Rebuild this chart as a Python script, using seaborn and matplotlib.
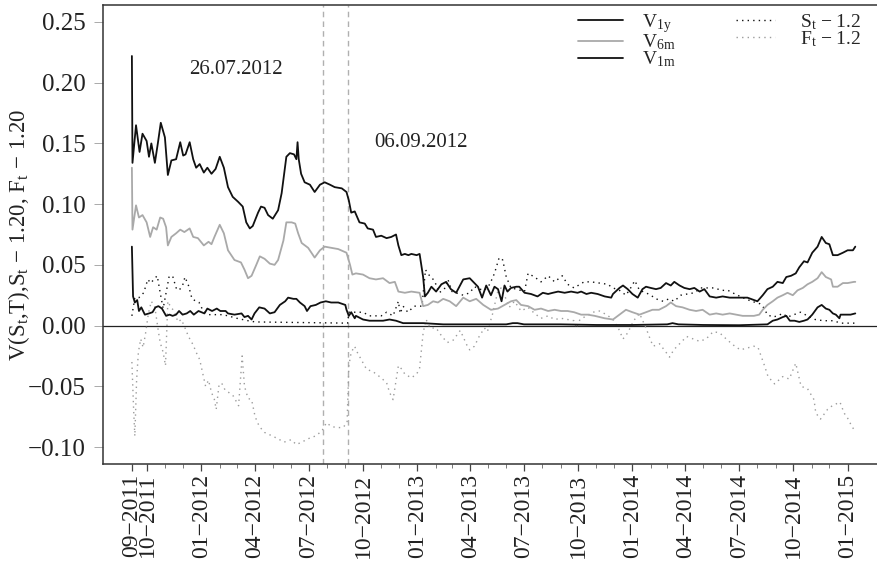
import matplotlib
matplotlib.use("Agg")
import matplotlib.pyplot as plt
import pandas as pd
import seaborn as sns
from matplotlib.lines import Line2D

# ---- data -------------------------------------------------------------
v1y_dates = [
    "2011-09-05", "2011-09-06", "2011-09-12", "2011-09-18", "2011-09-23", "2011-09-30",
    "2011-10-04", "2011-10-08", "2011-10-14", "2011-10-19", "2011-10-24", "2011-10-31",
    "2011-11-05", "2011-11-11", "2011-11-19", "2011-11-26", "2011-12-01", "2011-12-05",
    "2011-12-12", "2011-12-18", "2011-12-23", "2011-12-29", "2012-01-05", "2012-01-11",
    "2012-01-18", "2012-01-25", "2012-02-01", "2012-02-08", "2012-02-15", "2012-02-23",
    "2012-03-03", "2012-03-11", "2012-03-17", "2012-03-23", "2012-03-28", "2012-04-06",
    "2012-04-11", "2012-04-17", "2012-04-23", "2012-05-01", "2012-05-10", "2012-05-16",
    "2012-05-24", "2012-05-30", "2012-06-06", "2012-06-10", "2012-06-12", "2012-06-14",
    "2012-06-18", "2012-06-24", "2012-07-03", "2012-07-11", "2012-07-20", "2012-07-28",
    "2012-08-06", "2012-08-14", "2012-08-26", "2012-09-03", "2012-09-07", "2012-09-11",
    "2012-09-17", "2012-09-25", "2012-10-04", "2012-10-09", "2012-10-18", "2012-10-23",
    "2012-11-01", "2012-11-10", "2012-11-18", "2012-11-26", "2012-11-30", "2012-12-05",
    "2012-12-11", "2012-12-17", "2012-12-22", "2012-12-31", "2013-01-05", "2013-01-11",
    "2013-01-14", "2013-01-19", "2013-01-25", "2013-02-02", "2013-02-11", "2013-02-19",
    "2013-02-27", "2013-03-08", "2013-03-20", "2013-03-31", "2013-04-08", "2013-04-14",
    "2013-04-21", "2013-04-28", "2013-05-01", "2013-05-06", "2013-05-12", "2013-05-18",
    "2013-05-24", "2013-05-29", "2013-06-03", "2013-06-09", "2013-06-18", "2013-06-23",
    "2013-07-02", "2013-07-13", "2013-07-24", "2013-08-02", "2013-08-11", "2013-08-19",
    "2013-08-28", "2013-09-08", "2013-09-19", "2013-09-30", "2013-10-06", "2013-10-15",
    "2013-10-23", "2013-11-03", "2013-11-15", "2013-11-26", "2013-11-29", "2013-12-10",
    "2013-12-16", "2013-12-24", "2014-01-01", "2014-01-10", "2014-01-18", "2014-01-24",
    "2014-02-01", "2014-02-10", "2014-02-18", "2014-02-27", "2014-03-07", "2014-03-13",
    "2014-03-22", "2014-03-30", "2014-04-08", "2014-04-16", "2014-04-25", "2014-05-03",
    "2014-05-12", "2014-05-23", "2014-06-03", "2014-06-15", "2014-06-26", "2014-07-04",
    "2014-07-15", "2014-07-26", "2014-08-01", "2014-08-10", "2014-08-18", "2014-08-27",
    "2014-09-04", "2014-09-13", "2014-09-19", "2014-09-27", "2014-10-05", "2014-10-11",
    "2014-10-19", "2014-10-25", "2014-11-02", "2014-11-11", "2014-11-18", "2014-11-25",
    "2014-12-01", "2014-12-07", "2014-12-15", "2014-12-24", "2015-01-01", "2015-01-10",
    "2015-01-14",
]
v1y_values = [
    0.222, 0.134, 0.165, 0.143, 0.158, 0.152,
    0.139, 0.150, 0.134, 0.150, 0.167, 0.155,
    0.124, 0.136, 0.137, 0.151, 0.140, 0.141,
    0.151, 0.137, 0.130, 0.133, 0.126, 0.130,
    0.125, 0.129, 0.139, 0.130, 0.114, 0.106,
    0.102, 0.098, 0.085, 0.080, 0.082, 0.093,
    0.098, 0.097, 0.091, 0.088, 0.095, 0.109,
    0.139, 0.142, 0.141, 0.137, 0.151, 0.137,
    0.125, 0.118, 0.116, 0.110, 0.116, 0.118,
    0.116, 0.114, 0.113, 0.110, 0.103, 0.093,
    0.094, 0.085, 0.084, 0.080, 0.079, 0.073,
    0.074, 0.072, 0.073, 0.075, 0.066, 0.058,
    0.059, 0.058, 0.059, 0.058, 0.059, 0.040,
    0.024, 0.027, 0.032, 0.028, 0.034, 0.036,
    0.030, 0.027, 0.038, 0.039, 0.035, 0.032,
    0.023, 0.033, 0.030, 0.025, 0.032, 0.030,
    0.020, 0.033, 0.028, 0.031, 0.032, 0.032,
    0.027, 0.026, 0.024, 0.027, 0.026, 0.027,
    0.028, 0.027, 0.028, 0.027, 0.028, 0.026,
    0.027, 0.026, 0.024, 0.023, 0.026, 0.031,
    0.033, 0.030, 0.026, 0.023, 0.030, 0.032,
    0.031, 0.030, 0.031, 0.035, 0.033, 0.036,
    0.033, 0.031, 0.030, 0.031, 0.028, 0.030,
    0.024, 0.023, 0.024, 0.023, 0.023, 0.023,
    0.023, 0.021, 0.020, 0.025, 0.030, 0.032,
    0.036, 0.035, 0.040, 0.041, 0.043, 0.048,
    0.053, 0.052, 0.060, 0.065, 0.073, 0.068,
    0.067, 0.058, 0.058, 0.060, 0.062, 0.062,
    0.065,
]

v6m_dates = [
    "2011-09-05", "2011-09-06", "2011-09-12", "2011-09-17", "2011-09-23", "2011-09-30",
    "2011-10-06", "2011-10-11", "2011-10-17", "2011-10-23", "2011-10-28", "2011-11-02",
    "2011-11-05", "2011-11-11", "2011-11-19", "2011-11-26", "2011-12-03", "2011-12-12",
    "2011-12-18", "2011-12-26", "2012-01-05", "2012-01-13", "2012-01-18", "2012-01-23",
    "2012-02-01", "2012-02-08", "2012-02-15", "2012-02-26", "2012-03-08", "2012-03-14",
    "2012-03-20", "2012-03-26", "2012-04-03", "2012-04-09", "2012-04-17", "2012-04-26",
    "2012-05-04", "2012-05-10", "2012-05-19", "2012-05-24", "2012-06-02", "2012-06-08",
    "2012-06-13", "2012-06-19", "2012-06-30", "2012-07-11", "2012-07-20", "2012-07-28",
    "2012-08-09", "2012-08-20", "2012-09-03", "2012-09-09", "2012-09-13", "2012-09-19",
    "2012-10-01", "2012-10-12", "2012-10-23", "2012-11-04", "2012-11-15", "2012-11-24",
    "2012-11-30", "2012-12-11", "2012-12-22", "2013-01-05", "2013-01-11", "2013-01-19",
    "2013-01-28", "2013-02-05", "2013-02-14", "2013-02-25", "2013-03-08", "2013-03-20",
    "2013-03-31", "2013-04-11", "2013-04-23", "2013-05-06", "2013-05-18", "2013-05-29",
    "2013-06-09", "2013-06-18", "2013-06-26", "2013-07-08", "2013-07-19", "2013-07-30",
    "2013-08-11", "2013-08-22", "2013-09-02", "2013-09-13", "2013-09-24", "2013-10-06",
    "2013-10-17", "2013-10-29", "2013-11-15", "2013-11-29", "2013-12-10", "2013-12-21",
    "2014-01-01", "2014-01-13", "2014-01-24", "2014-02-04", "2014-02-15", "2014-02-27",
    "2014-03-07", "2014-03-16", "2014-03-27", "2014-04-08", "2014-04-19", "2014-04-30",
    "2014-05-12", "2014-05-23", "2014-06-03", "2014-06-15", "2014-06-26", "2014-07-07",
    "2014-07-26", "2014-08-04", "2014-08-10", "2014-08-18", "2014-08-27", "2014-09-04",
    "2014-09-13", "2014-09-21", "2014-09-30", "2014-10-08", "2014-10-17", "2014-10-25",
    "2014-11-02", "2014-11-11", "2014-11-18", "2014-11-25", "2014-12-04", "2014-12-07",
    "2014-12-15", "2014-12-24", "2015-01-01", "2015-01-12", "2015-01-14",
]
v6m_values = [
    0.130, 0.079, 0.099, 0.089, 0.091, 0.085,
    0.073, 0.081, 0.079, 0.089, 0.088, 0.081,
    0.066, 0.073, 0.076, 0.079, 0.077, 0.080,
    0.073, 0.072, 0.066, 0.069, 0.067, 0.073,
    0.083, 0.076, 0.062, 0.054, 0.052, 0.046,
    0.039, 0.041, 0.050, 0.057, 0.055, 0.051,
    0.050, 0.054, 0.070, 0.085, 0.085, 0.084,
    0.076, 0.068, 0.064, 0.056, 0.062, 0.065,
    0.064, 0.063, 0.060, 0.050, 0.042, 0.043,
    0.042, 0.039, 0.038, 0.039, 0.035, 0.036,
    0.028, 0.027, 0.028, 0.027, 0.016, 0.017,
    0.020, 0.019, 0.022, 0.020, 0.016, 0.023,
    0.020, 0.022, 0.017, 0.013, 0.014, 0.017,
    0.020, 0.021, 0.017, 0.016, 0.013, 0.014,
    0.012, 0.013, 0.012, 0.012, 0.011, 0.009,
    0.009, 0.008, 0.006, 0.005, 0.009, 0.013,
    0.011, 0.009, 0.011, 0.013, 0.013, 0.016,
    0.019, 0.016, 0.015, 0.013, 0.012, 0.013,
    0.009, 0.010, 0.009, 0.010, 0.009, 0.008,
    0.008, 0.009, 0.013, 0.017, 0.020, 0.023,
    0.025, 0.027, 0.025, 0.029, 0.031, 0.034,
    0.036, 0.039, 0.044, 0.040, 0.038, 0.032,
    0.032, 0.035, 0.035, 0.036, 0.036,
]

v1m_dates = [
    "2011-09-05", "2011-09-07", "2011-09-10", "2011-09-14", "2011-09-17", "2011-09-21",
    "2011-09-27", "2011-10-04", "2011-10-10", "2011-10-15", "2011-10-20", "2011-10-26",
    "2011-11-02", "2011-11-08", "2011-11-13", "2011-11-19", "2011-11-24", "2011-11-30",
    "2011-12-07", "2011-12-13", "2011-12-19", "2011-12-27", "2012-01-06", "2012-01-11",
    "2012-01-19", "2012-01-27", "2012-02-02", "2012-02-11", "2012-02-15", "2012-02-26",
    "2012-03-09", "2012-03-14", "2012-03-20", "2012-03-26", "2012-03-31", "2012-04-08",
    "2012-04-17", "2012-04-26", "2012-05-04", "2012-05-13", "2012-05-22", "2012-05-27",
    "2012-06-05", "2012-06-10", "2012-06-16", "2012-06-24", "2012-06-28", "2012-07-04",
    "2012-07-13", "2012-07-21", "2012-07-30", "2012-08-08", "2012-08-20", "2012-09-01",
    "2012-09-03", "2012-09-07", "2012-09-11", "2012-09-17", "2012-09-19", "2012-10-01",
    "2012-10-12", "2012-10-23", "2012-11-04", "2012-11-15", "2012-11-26", "2012-12-08",
    "2013-01-11", "2013-02-14", "2013-03-08", "2013-04-25", "2013-06-01", "2013-06-12",
    "2013-06-20", "2013-07-01", "2013-09-01", "2013-11-01", "2014-01-01", "2014-03-01",
    "2014-03-10", "2014-03-20", "2014-05-01", "2014-07-01", "2014-08-18", "2014-08-27",
    "2014-09-04", "2014-09-13", "2014-09-19", "2014-09-25", "2014-10-03", "2014-10-11",
    "2014-10-19", "2014-10-25", "2014-11-02", "2014-11-11", "2014-11-18", "2014-11-25",
    "2014-12-01", "2014-12-07", "2014-12-12", "2014-12-18", "2014-12-20", "2014-12-29",
    "2015-01-06", "2015-01-14",
]
v1m_values = [
    0.065, 0.024, 0.019, 0.021, 0.012, 0.015,
    0.009, 0.010, 0.011, 0.015, 0.016, 0.014,
    0.008, 0.009, 0.008, 0.009, 0.012, 0.009,
    0.010, 0.012, 0.009, 0.012, 0.010, 0.014,
    0.012, 0.014, 0.012, 0.012, 0.010, 0.009,
    0.010, 0.007, 0.008, 0.005, 0.010, 0.015,
    0.014, 0.010, 0.011, 0.017, 0.020, 0.023,
    0.022, 0.022, 0.019, 0.016, 0.012, 0.016,
    0.017, 0.019, 0.020, 0.019, 0.019, 0.017,
    0.013, 0.008, 0.011, 0.006, 0.008, 0.005,
    0.004, 0.004, 0.004, 0.005, 0.004, 0.002,
    0.002, 0.001, 0.001, 0.001, 0.001, 0.002,
    0.002, 0.001, 0.001, 0.0005, 0.0005, 0.001,
    0.002, 0.001, 0.0005, 0.0003, 0.001, 0.004,
    0.005, 0.007, 0.008, 0.004, 0.004, 0.003,
    0.004, 0.005, 0.009, 0.015, 0.017, 0.014,
    0.013, 0.010, 0.009, 0.006, 0.009, 0.009,
    0.009, 0.010,
]

spot_dates = [
    "2011-09-05", "2011-09-10", "2011-09-17", "2011-09-25", "2011-10-02", "2011-10-07",
    "2011-10-14", "2011-10-18", "2011-10-23", "2011-10-28", "2011-11-02", "2011-11-07",
    "2011-11-13", "2011-11-19", "2011-11-24", "2011-11-30", "2011-12-04", "2011-12-10",
    "2011-12-16", "2011-12-23", "2011-12-28", "2012-01-03", "2012-01-13", "2012-01-25",
    "2012-02-06", "2012-02-15", "2012-03-01", "2012-03-20", "2012-04-01", "2012-09-05",
    "2012-09-07", "2012-09-19", "2012-10-01", "2012-10-12", "2012-10-23", "2012-11-01",
    "2012-11-10", "2012-11-21", "2012-11-30", "2012-12-03", "2012-12-08", "2012-12-16",
    "2012-12-27", "2013-01-09", "2013-01-15", "2013-01-20", "2013-01-25", "2013-01-31",
    "2013-02-07", "2013-02-16", "2013-02-22", "2013-03-01", "2013-03-20", "2013-03-31",
    "2013-04-08", "2013-04-17", "2013-04-25", "2013-05-04", "2013-05-12", "2013-05-20",
    "2013-05-26", "2013-06-01", "2013-06-09", "2013-06-18", "2013-07-02", "2013-07-08",
    "2013-07-19", "2013-07-30", "2013-08-11", "2013-08-22", "2013-09-04", "2013-09-13",
    "2013-09-24", "2013-10-11", "2013-10-23", "2013-11-06", "2013-11-20", "2013-11-29",
    "2013-12-10", "2013-12-21", "2013-12-29", "2014-01-05", "2014-01-13", "2014-01-24",
    "2014-02-01", "2014-02-10", "2014-02-22", "2014-03-04", "2014-03-13", "2014-03-24",
    "2014-04-04", "2014-04-16", "2014-04-27", "2014-05-08", "2014-05-20", "2014-06-01",
    "2014-06-12", "2014-06-24", "2014-07-07", "2014-07-22", "2014-08-05", "2014-08-10",
    "2014-08-18", "2014-08-27", "2014-09-04", "2014-09-13", "2014-09-21", "2014-10-02",
    "2014-10-13", "2014-10-25", "2014-11-07", "2014-11-21", "2014-12-07", "2014-12-21",
    "2015-01-05", "2015-01-14",
]
spot_values = [
    0.008, 0.023, 0.023, 0.027, 0.038, 0.035,
    0.039, 0.041, 0.027, 0.014, 0.027, 0.040,
    0.041, 0.031, 0.029, 0.033, 0.040, 0.033,
    0.022, 0.020, 0.019, 0.013, 0.009, 0.009,
    0.009, 0.008, 0.006, 0.004, 0.003, 0.002,
    0.011, 0.011, 0.011, 0.008, 0.008, 0.008,
    0.011, 0.008, 0.020, 0.010, 0.016, 0.011,
    0.016, 0.016, 0.046, 0.042, 0.040, 0.036,
    0.027, 0.030, 0.038, 0.028, 0.025, 0.027,
    0.032, 0.030, 0.029, 0.034, 0.043, 0.056,
    0.054, 0.040, 0.031, 0.030, 0.028, 0.043,
    0.040, 0.036, 0.041, 0.036, 0.041, 0.034,
    0.031, 0.036, 0.036, 0.035, 0.034, 0.031,
    0.029, 0.025, 0.031, 0.037, 0.029, 0.027,
    0.025, 0.022, 0.020, 0.022, 0.020, 0.025,
    0.026, 0.027, 0.031, 0.031, 0.031, 0.029,
    0.029, 0.026, 0.023, 0.020, 0.018, 0.016,
    0.009, 0.007, 0.008, 0.010, 0.007, 0.009,
    0.011, 0.008, 0.005, 0.004, 0.004, 0.002,
    0.002, 0.002,
]

fwd_dates = [
    "2011-09-05", "2011-09-08", "2011-09-10", "2011-09-13", "2011-09-16", "2011-09-20",
    "2011-09-24", "2011-09-28", "2011-10-03", "2011-10-08", "2011-10-14", "2011-10-20",
    "2011-10-23", "2011-10-28", "2011-11-01", "2011-11-05", "2011-11-10", "2011-11-16",
    "2011-11-22", "2011-11-28", "2011-12-05", "2011-12-10", "2011-12-18", "2011-12-23",
    "2011-12-29", "2012-01-03", "2012-01-08", "2012-01-13", "2012-01-18", "2012-01-23",
    "2012-01-26", "2012-01-31", "2012-02-05", "2012-02-10", "2012-02-16", "2012-02-24",
    "2012-03-04", "2012-03-10", "2012-03-14", "2012-03-20", "2012-03-26", "2012-04-01",
    "2012-04-08", "2012-04-17", "2012-04-26", "2012-05-09", "2012-05-20", "2012-06-01",
    "2012-06-10", "2012-06-19", "2012-07-01", "2012-07-12", "2012-07-23", "2012-07-31",
    "2012-08-08", "2012-08-17", "2012-08-28", "2012-09-04", "2012-09-07", "2012-09-11",
    "2012-09-17", "2012-09-19", "2012-09-28", "2012-10-07", "2012-10-18", "2012-10-29",
    "2012-11-10", "2012-11-15", "2012-11-21", "2012-11-30", "2012-12-06", "2012-12-11",
    "2012-12-22", "2012-12-31", "2013-01-05", "2013-01-11", "2013-01-16", "2013-01-23",
    "2013-02-02", "2013-02-12", "2013-02-21", "2013-03-03", "2013-03-15", "2013-03-27",
    "2013-03-31", "2013-04-08", "2013-04-16", "2013-04-25", "2013-04-30", "2013-05-09",
    "2013-05-17", "2013-05-23", "2013-05-29", "2013-06-06", "2013-06-15", "2013-06-26",
    "2013-07-08", "2013-07-19", "2013-07-30", "2013-08-11", "2013-08-22", "2013-09-02",
    "2013-09-13", "2013-09-24", "2013-09-28", "2013-10-04", "2013-10-15", "2013-10-26",
    "2013-11-06", "2013-11-18", "2013-11-29", "2013-12-08", "2013-12-16", "2013-12-24",
    "2014-01-03", "2014-01-13", "2014-01-24", "2014-01-31", "2014-02-05", "2014-02-16",
    "2014-02-27", "2014-03-05", "2014-03-12", "2014-03-22", "2014-04-03", "2014-04-14",
    "2014-04-25", "2014-05-06", "2014-05-18", "2014-05-29", "2014-06-09", "2014-06-21",
    "2014-07-03", "2014-07-26", "2014-08-02", "2014-08-13", "2014-08-19", "2014-08-30",
    "2014-09-13", "2014-09-24", "2014-10-05", "2014-10-14", "2014-10-25", "2014-11-05",
    "2014-11-08", "2014-11-16", "2014-11-28", "2014-12-06", "2014-12-19", "2014-12-26",
    "2015-01-02", "2015-01-08", "2015-01-14",
]
fwd_values = [
    -0.030, -0.070, -0.091, -0.045, -0.022, -0.011,
    -0.018, -0.007, 0.010, 0.020, 0.015, -0.005,
    -0.014, -0.022, -0.033, 0.020, 0.015, 0.012,
    0.003, 0.005, -0.003, -0.009, -0.016, -0.022,
    -0.028, -0.039, -0.050, -0.045, -0.055, -0.061,
    -0.069, -0.048, -0.048, -0.053, -0.055, -0.058,
    -0.066, -0.025, -0.050, -0.060, -0.061, -0.075,
    -0.083, -0.088, -0.090, -0.093, -0.096, -0.094,
    -0.098, -0.096, -0.093, -0.091, -0.087, -0.080,
    -0.083, -0.084, -0.084, -0.080, -0.033, -0.022,
    -0.017, -0.020, -0.028, -0.036, -0.038, -0.042,
    -0.047, -0.055, -0.061, -0.033, -0.036, -0.040,
    -0.043, -0.040, -0.035, -0.006, 0.005, -0.002,
    -0.002, -0.009, -0.014, -0.012, -0.004, -0.017,
    -0.020, -0.017, -0.009, -0.002, -0.005, 0.010,
    0.027, 0.031, 0.025, 0.015, 0.020, 0.012,
    0.015, 0.010, 0.006, 0.008, 0.005, 0.006,
    0.005, 0.004, -0.002, 0.005, 0.008, 0.011,
    0.012, 0.009, 0.005, -0.002, -0.011, -0.006,
    0.004, 0.010, -0.002, -0.011, -0.017, -0.015,
    -0.022, -0.026, -0.020, -0.015, -0.009, -0.011,
    -0.013, -0.011, -0.005, -0.006, -0.011, -0.016,
    -0.020, -0.017, -0.018, -0.033, -0.042, -0.048,
    -0.042, -0.044, -0.031, -0.050, -0.052, -0.061,
    -0.072, -0.077, -0.069, -0.066, -0.063, -0.072,
    -0.077, -0.083, -0.087,
]

event_dates = ["2012-07-26", "2012-09-06"]
event_labels = ["26.07.2012", "06.09.2012"]

major_tick_dates = [
    "2011-09-05", "2011-10-01", "2012-01-01", "2012-04-01", "2012-07-01", "2012-10-01",
    "2013-01-01", "2013-04-01", "2013-07-01", "2013-10-01", "2014-01-01", "2014-04-01",
    "2014-07-01", "2014-10-01", "2015-01-01",
]
major_tick_labels = [
    "09\u22122011", "10\u22122011", "01\u22122012", "04\u22122012", "07\u22122012",
    "10\u22122012", "01\u22122013", "04\u22122013", "07\u22122013", "10\u22122013",
    "01\u22122014", "04\u22122014", "07\u22122014", "10\u22122014", "01\u22122015",
]
y_ticks = [-0.10, -0.05, 0.00, 0.05, 0.10, 0.15, 0.20, 0.25]

# ---- style -------------------------------------------------------------
sns.set_theme(style="white")
plt.rcParams["font.family"] = ["Liberation Serif", "DejaVu Serif"]
plt.rcParams["mathtext.fontset"] = "custom"
plt.rcParams["mathtext.rm"] = "Liberation Serif"
plt.rcParams["mathtext.it"] = "Liberation Serif"
plt.rcParams["mathtext.default"] = "regular"

BLACK = "#111111"
GREY = "#a9a9a9"
DOT_GREY = "#9c9c9c"
SOLID_W = 1.3
DOTS = (0, (1, 3))

W, H = 878, 569
fig = plt.figure(figsize=(W / 100, H / 100), dpi=100)
ax = fig.add_axes([103 / W, 105 / H, 780 / W, 459 / H])


def series(dates, values):
    return pd.DataFrame({"date": pd.to_datetime(dates), "value": values})


sns.lineplot(data=series(fwd_dates, fwd_values), x="date", y="value", ax=ax,
             color=DOT_GREY, linewidth=1.0, linestyle=DOTS)
sns.lineplot(data=series(spot_dates, spot_values), x="date", y="value", ax=ax,
             color=BLACK, linewidth=1.0, linestyle=DOTS)
sns.lineplot(data=series(v6m_dates, v6m_values), x="date", y="value", ax=ax,
             color=GREY, linewidth=SOLID_W)
sns.lineplot(data=series(v1y_dates, v1y_values), x="date", y="value", ax=ax,
             color=BLACK, linewidth=SOLID_W)
sns.lineplot(data=series(v1m_dates, v1m_values), x="date", y="value", ax=ax,
             color=BLACK, linewidth=SOLID_W)

ax.axhline(0, color="#222222", linewidth=0.9, zorder=1)
for d in event_dates:
    ax.axvline(pd.Timestamp(d), color="#b0b0b0", linewidth=1.0,
               linestyle=(0, (4, 3)), zorder=0.5)

ax.text(pd.Timestamp("2012-02-28"), 0.2107, event_labels[0], ha="center",
        va="center", fontsize=15, color="#222222")
ax.text(pd.Timestamp("2013-01-07"), 0.1508, event_labels[1], ha="center",
        va="center", fontsize=15, color="#222222")

ax.set_xlim(pd.Timestamp("2011-07-18"), pd.Timestamp("2015-03-02"))
ax.set_ylim(-0.114, 0.264)

ax.set_xticks(pd.to_datetime(major_tick_dates))
ax.set_xticklabels(major_tick_labels, rotation=90, fontsize=17)
minor = pd.date_range("2011-11-01", "2014-12-01", freq="MS")
ax.set_xticks(minor, minor=True)
ax.set_yticks(y_ticks)
ax.set_yticklabels([f"{v:.2f}".replace("-", "\u2212") for v in y_ticks],
                   fontsize=18)

ax.tick_params(axis="x", which="major", bottom=True, length=5, width=0.9,
               color="#444444", pad=2, labelcolor="#222222")
ax.tick_params(axis="x", which="minor", bottom=True, length=3, width=0.7,
               color="#777777")
ax.tick_params(axis="y", which="major", left=True, length=6.5, width=0.7,
               color="#aaaaaa", pad=6, labelcolor="#222222")

for s in ax.spines.values():
    s.set_color("#333333")
    s.set_linewidth(1.1)

ax.set_xlabel("")
ax.set_ylabel("V(S$_t$,T),S$_t$ \u2212 1.20, F$_t$ \u2212 1.20", fontsize=16.5,
              color="#222222")
ax.yaxis.set_label_coords(-(103 - 32) / 780, 0.5)

# legends: solid value curves, then dotted rate curves
h1 = [Line2D([], [], color=BLACK, lw=SOLID_W),
      Line2D([], [], color=GREY, lw=SOLID_W),
      Line2D([], [], color=BLACK, lw=SOLID_W)]
l1 = ["$V_{1y}$", "$V_{6m}$", "$V_{1m}$"]
h2 = [Line2D([], [], color=BLACK, lw=1.0, linestyle=DOTS),
      Line2D([], [], color=DOT_GREY, lw=1.0, linestyle=DOTS)]
l2 = ["$S_t$ \u2212 1.2", "$F_t$ \u2212 1.2"]

leg1 = ax.legend(h1, l1, loc="upper left", bbox_to_anchor=(578 / W, 1 - 12 / H),
                 bbox_transform=fig.transFigure, frameon=False, fontsize=14,
                 handlelength=2.3, handletextpad=1.0, borderpad=0,
                 borderaxespad=0, labelspacing=-0.13)
ax.add_artist(leg1)
ax.legend(h2, l2, loc="upper left", bbox_to_anchor=(736 / W, 1 - 12 / H),
          bbox_transform=fig.transFigure, frameon=False, fontsize=14,
          handlelength=2.0, handletextpad=1.3, borderpad=0,
          borderaxespad=0, labelspacing=-0.13)

fig.savefig("out.png", dpi=100)
